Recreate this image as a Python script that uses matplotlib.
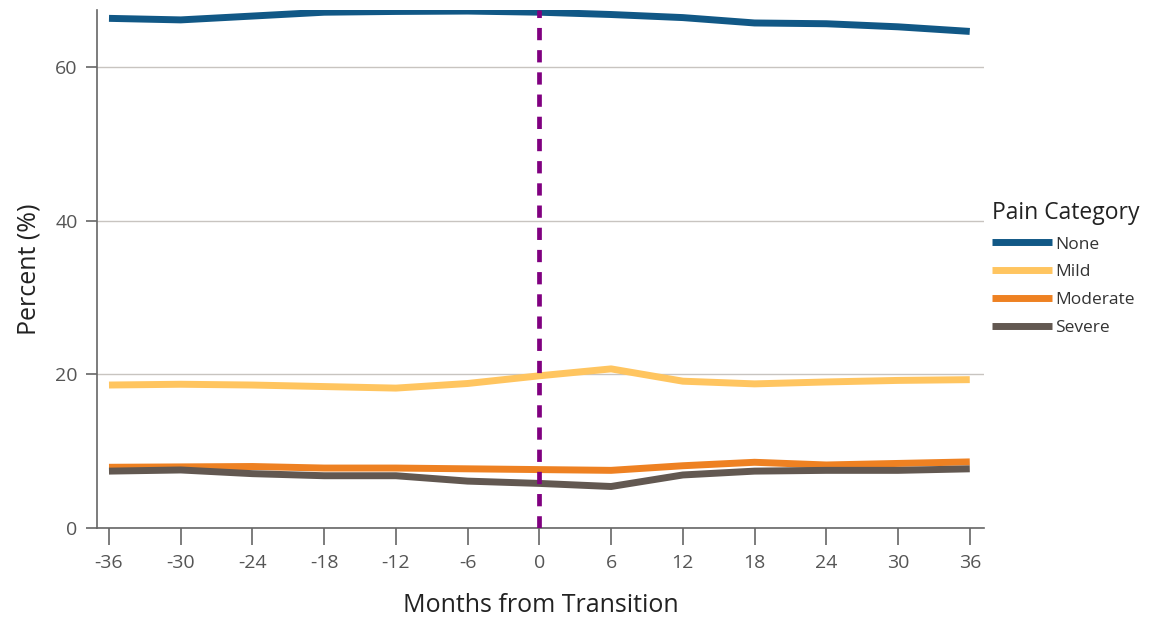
import matplotlib
matplotlib.use("Agg")
import matplotlib.pyplot as plt

plt.rcParams['font.family'] = ['Open Sans', 'DejaVu Sans']

months = [-36, -30, -24, -18, -12, -6, 0, 6, 12, 18, 24, 30, 36]
none_pct = [66.3, 66.1, 66.6, 67.1, 67.2, 67.25, 67.1, 66.8, 66.4, 65.7, 65.6, 65.2, 64.6]
mild_pct = [18.6, 18.7, 18.6, 18.4, 18.2, 18.8, 19.8, 20.7, 19.1, 18.75, 19.0, 19.2, 19.3]
moderate_pct = [7.9, 7.95, 8.0, 7.8, 7.8, 7.7, 7.6, 7.5, 8.1, 8.55, 8.2, 8.4, 8.6]
severe_pct = [7.4, 7.55, 7.07, 6.8, 6.8, 6.1, 5.8, 5.4, 6.9, 7.4, 7.5, 7.5, 7.7]
categories = ["None", "Mild", "Moderate", "Severe"]
colors = ["#115886", "#FFC560", "#EE8122", "#625851"]
series = [none_pct, mild_pct, moderate_pct, severe_pct]

fig = plt.figure(figsize=(11.51, 6.19), dpi=100)
ax = fig.add_axes([0.0843, 0.147, 0.7707, 0.837])

for name, vals, c in zip(categories, series, colors):
    ax.plot(months, vals, color=c, lw=5.0, label=name, solid_capstyle='butt', zorder=3)

ax.axvline(0, color="#800080", lw=3.4, linestyle=(0, (2.6, 2.1)), zorder=4)

ax.set_xlim(-37.0, 37.2)
ax.set_ylim(0, 67.4)
ax.set_xticks(months)
ax.set_xticklabels([str(m) for m in months])
ax.set_yticks([0, 20, 40, 60])
ax.yaxis.grid(True, color="#c8c4c0", lw=1.0)
ax.set_axisbelow(True)

for s in ["top", "right"]:
    ax.spines[s].set_visible(False)
for s in ["left", "bottom"]:
    ax.spines[s].set_color("#666666")
    ax.spines[s].set_linewidth(1.2)

ax.tick_params(axis='x', length=12, width=1.2, color="#666666", labelsize=14, labelcolor="#555555", pad=7)
ax.tick_params(axis='y', length=8, width=1.2, color="#666666", labelsize=14, labelcolor="#555555", pad=6)

ax.set_xlabel("Months from Transition", fontsize=18, color="#222222", labelpad=15)
ax.set_ylabel("Percent (%)", fontsize=18, color="#222222", labelpad=10)

leg = ax.legend(title="Pain Category", loc="upper left", bbox_to_anchor=(1.009, 0.632),
                frameon=False, fontsize=12.5, title_fontsize=16.5, handlelength=3.45,
                handletextpad=0.2, labelspacing=0.68, borderaxespad=0.0, borderpad=0.0)
leg._legend_box.align = "left"
for t in leg.get_texts():
    t.set_color("#333333")
leg.get_title().set_color("#222222")

fig.savefig("out.png", dpi=100)
